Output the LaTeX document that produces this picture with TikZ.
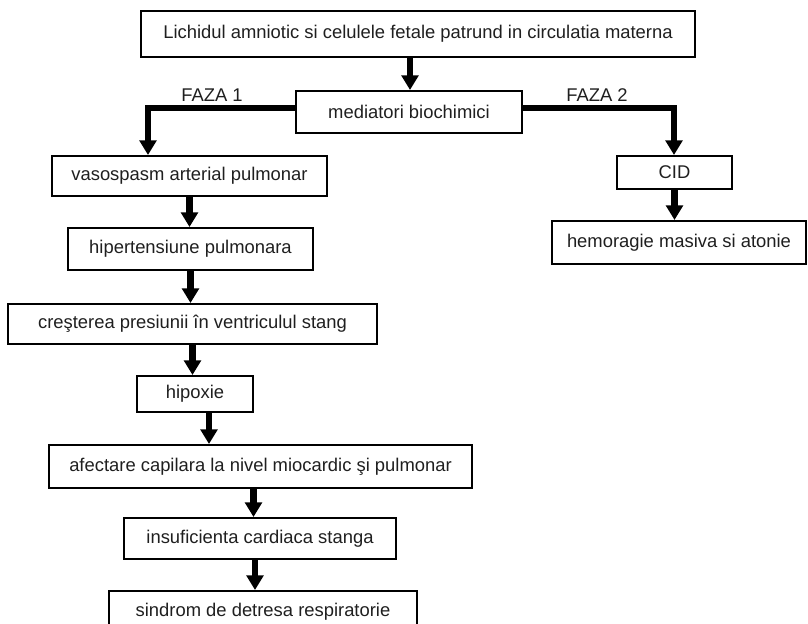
\documentclass[tikz,border=0pt]{standalone}
\usepackage{fontspec}
\setmainfont{Liberation Sans}
\usetikzlibrary{arrows.meta,calc}
\begin{document}
\begin{tikzpicture}[x=0.75pt,y=-0.75pt,
  box/.style={draw,line width=1.5pt,inner sep=0pt,font=\fontsize{13.8}{16}\selectfont,text=black!88},
  lbl/.style={inner sep=0pt,font=\fontsize{13.8}{16}\selectfont,text=black!88},
  arr/.style={line width=4.7pt,line join=miter,-{Triangle[width=12.5pt,length=11pt]}}]
\useasboundingbox (0,0) rectangle (808,624);
\clip (0,0) rectangle (808,624);
\node[box,minimum width=415.5pt,minimum height=34.5pt] (top) at (418,34) {Lichidul amniotic si celulele fetale patrund in circulatia materna};
\node[box,minimum width=169.5pt,minimum height=31.5pt] (med) at (409,112) {mediatori biochimici};
\node[box,minimum width=206.25pt,minimum height=30pt] (vaso) at (189.5,176) {vasospasm arterial pulmonar};
\node[box,minimum width=183.75pt,minimum height=31.5pt] (hyper) at (190.5,249) {hipertensiune pulmonara};
\node[box,minimum width=276.75pt,minimum height=30pt] (cresc) at (192.5,324) {creşterea presiunii în ventriculul stang};
\node[box,minimum width=87pt,minimum height=27pt] (hipox) at (195,394) {hipoxie};
\node[box,minimum width=317.25pt,minimum height=32.25pt] (afect) at (260.5,466.5) {afectare capilara la nivel miocardic şi pulmonar};
\node[box,minimum width=204pt,minimum height=30.75pt] (insuf) at (260,538.5) {insuficienta cardiaca stanga};
\node[box,minimum width=231pt,minimum height=30.75pt] (sindr) at (263,611.5) {sindrom de detresa respiratorie};
\node[box,minimum width=86.25pt,minimum height=24.75pt] (cid) at (674.5,172.5) {CID};
\node[box,minimum width=190.5pt,minimum height=32.25pt] (hemo) at (679,242.5) {hemoragie masiva si atonie};
\node[lbl] (f1) at (212,95) {FAZA 1};
\node[lbl] (f2) at (597,95) {FAZA 2};
\coordinate (c1) at (148,108);
\coordinate (c2) at (674,108);
\coordinate (t1) at ($(top.south)+(-8,0)$);
\coordinate (h1) at ($(hipox.south)+(14,0)$);
\coordinate (a1) at ($(afect.south)+(-7,0)$);
\coordinate (i1) at ($(insuf.south)+(-5,0)$);
\draw[arr] (t1) -- (t1 |- med.north);
\draw[arr] ([yshift=3pt]med.west) -- (c1) -- (c1 |- vaso.north);
\draw[arr] ([yshift=3pt]med.east) -- (c2) -- (c2 |- cid.north);
\draw[arr] (vaso.south) -- (vaso.south |- hyper.north);
\draw[arr] (hyper.south) -- (hyper.south |- cresc.north);
\draw[arr] (cresc.south) -- (cresc.south |- hipox.north);
\draw[arr] (h1) -- (h1 |- afect.north);
\draw[arr] (a1) -- (a1 |- insuf.north);
\draw[arr] (i1) -- (i1 |- sindr.north);
\draw[arr] (cid.south) -- (cid.south |- hemo.north);
\end{tikzpicture}
\end{document}
